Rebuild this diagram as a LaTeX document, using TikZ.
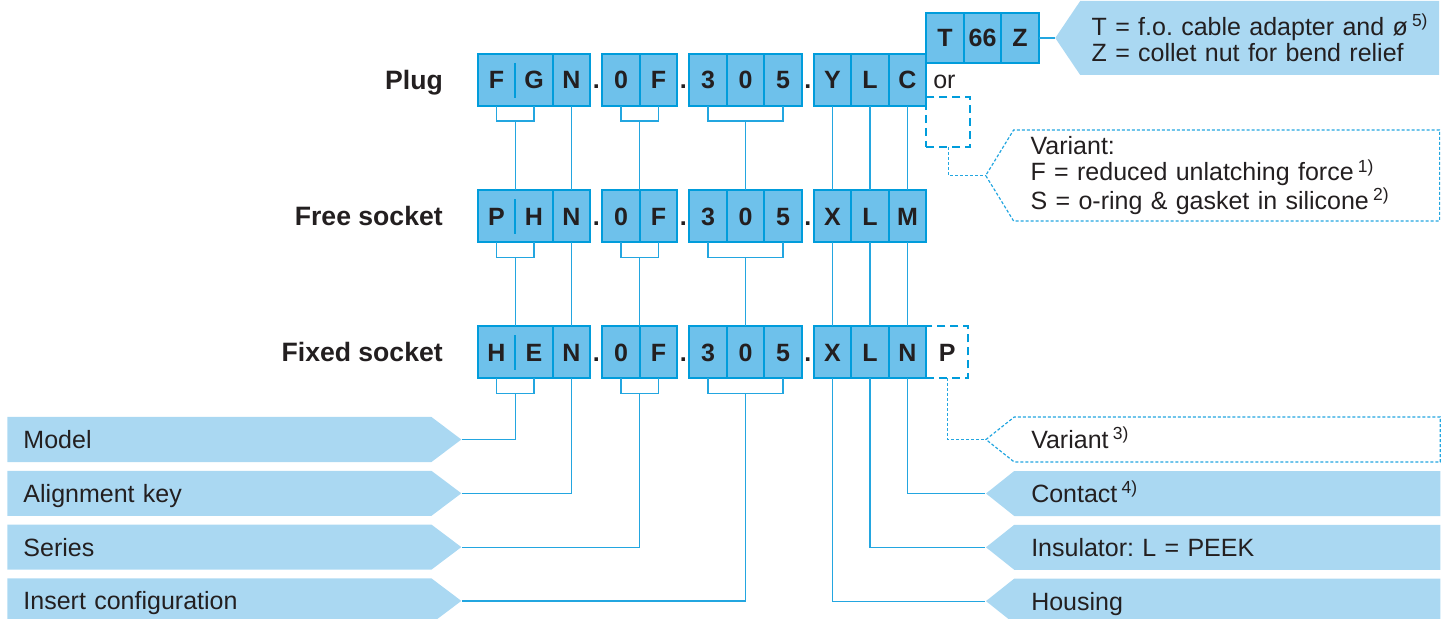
\documentclass[tikz,border=0pt]{standalone}
\usepackage{fontspec}
\setmainfont{Liberation Sans}
\usetikzlibrary{positioning, shapes.symbols}
\frenchspacing

\definecolor{cellfill}{RGB}{110,193,235}
\definecolor{cellline}{RGB}{0,156,219}
\definecolor{tagfill}{RGB}{170,216,242}
\definecolor{linkblue}{RGB}{35,166,224}
\definecolor{textdark}{RGB}{35,31,32}

\begin{document}
\begin{tikzpicture}[x=0.5pt, y=-0.5pt, text=textdark,
        cell/.style={draw=cellline, line width=1pt, fill=cellfill, minimum width=18.75pt, minimum height=26pt,
            inner sep=0pt, outer sep=0pt, text height=8.95pt, text depth=0pt, font=\fontsize{12.5}{15}\selectfont\bfseries},
        halfcell/.style={cell, draw=none},
        cellborder/.style={draw=cellline, line width=1pt},
        dashcell/.style={cell, fill=none, dash pattern=on 4pt off 2.5pt},
        gap/.style={minimum width=6pt, minimum height=26pt, inner sep=0pt, outer sep=0pt, text height=8.95pt, text depth=0pt,
            font=\fontsize{12.5}{15}\selectfont\bfseries},
        word/.style={gap, font=\fontsize{12.5}{15}\selectfont},
        rowname/.style={gap, anchor=east, text height=9.5pt, font=\fontsize{13.3}{15}\selectfont\bfseries},
        tag/.style={signal, fill=tagfill, inner ysep=0pt, align=left, text width=196pt, font=\fontsize{12.5}{13.25}\selectfont},
        oneline/.style={minimum height=22.5pt, text height=8.95pt, text depth=0pt},
        tagleft/.style={tag, oneline, signal to=east, signal pointer angle=74, inner xsep=8pt},
        tagright/.style={tag, signal to=west, signal pointer angle=77, inner xsep=8.5pt},
        dashtag/.style={tagright, fill=none, draw=linkblue, line width=0.6pt, dash pattern=on 1.5pt off 1pt},
        link/.style={draw=linkblue, line width=0.6pt},
        dotlink/.style={link, dash pattern=on 1.5pt off 1pt}
    ]
    \useasboundingbox (0,0) rectangle (1449,619);

    % plug
    \node[halfcell] (p1) at (496.5,80) {F};
    \node[halfcell, right=0pt of p1] (p2) {G};
    \node[cell, right=0pt of p2] (p3) {N};
    \node[gap, right=0pt of p3] (p3d) {.};
    \node[cell, right=0pt of p3d] (p4) {0};
    \node[cell, right=0pt of p4] (p5) {F};
    \node[gap, right=0pt of p5] (p5d) {.};
    \node[cell, right=0pt of p5d] (p6) {3};
    \node[cell, right=0pt of p6] (p7) {0};
    \node[cell, right=0pt of p7] (p8) {5};
    \node[gap, right=0pt of p8] (p8d) {.};
    \node[cell, right=0pt of p8d] (p9) {Y};
    \node[cell, right=0pt of p9] (p10) {L};
    \node[cell, right=0pt of p10] (p11) {C};
    \node[rowname, left=17.5pt of p1] (plug) {Plug};
    \node[word, right=3.5pt of p11] (or) {or};
    \node[dashcell, minimum width=22pt, minimum height=25pt, below right=-4.5pt and 0pt of p11] (pvar) {};
    \node[cell, minimum height=25pt, above right=-4.5pt and 0pt of p11] (t1) {T};
    \node[cell, minimum height=25pt, right=0pt of t1] (t2) {66};
    \node[cell, minimum height=25pt, right=0pt of t2] (t3) {Z};

    % free socket
    \node[halfcell, below=42.25pt of p1] (f1) {P};
    \node[halfcell, right=0pt of f1] (f2) {H};
    \node[cell, right=0pt of f2] (f3) {N};
    \node[gap, right=0pt of f3] (f3d) {.};
    \node[cell, right=0pt of f3d] (f4) {0};
    \node[cell, right=0pt of f4] (f5) {F};
    \node[gap, right=0pt of f5] (f5d) {.};
    \node[cell, right=0pt of f5d] (f6) {3};
    \node[cell, right=0pt of f6] (f7) {0};
    \node[cell, right=0pt of f7] (f8) {5};
    \node[gap, right=0pt of f8] (f8d) {.};
    \node[cell, right=0pt of f8d] (f9) {X};
    \node[cell, right=0pt of f9] (f10) {L};
    \node[cell, right=0pt of f10] (f11) {M};
    \node[rowname, left=17.5pt of f1] (free) {Free socket};

    % fixed socket
    \node[halfcell, below=42pt of f1] (x1) {H};
    \node[halfcell, right=0pt of x1] (x2) {E};
    \node[cell, right=0pt of x2] (x3) {N};
    \node[gap, right=0pt of x3] (x3d) {.};
    \node[cell, right=0pt of x3d] (x4) {0};
    \node[cell, right=0pt of x4] (x5) {F};
    \node[gap, right=0pt of x5] (x5d) {.};
    \node[cell, right=0pt of x5d] (x6) {3};
    \node[cell, right=0pt of x6] (x7) {0};
    \node[cell, right=0pt of x7] (x8) {5};
    \node[gap, right=0pt of x8] (x8d) {.};
    \node[cell, right=0pt of x8d] (x9) {X};
    \node[cell, right=0pt of x9] (x10) {L};
    \node[cell, right=0pt of x10] (x11) {N};
    \node[dashcell, minimum width=21pt, right=0pt of x11] (xP) {P};
    \node[rowname, left=17.5pt of x1] (fixed) {Fixed socket};

    % model frames with short divider
    \draw[cellborder] (p1.north west) rectangle (p2.south east);
    \draw[cellborder] ([yshift=-4.5pt]p1.north east) -- ([yshift=4pt]p1.south east);
    \draw[cellborder] (f1.north west) rectangle (f2.south east);
    \draw[cellborder] ([yshift=-4.5pt]f1.north east) -- ([yshift=4pt]f1.south east);
    \draw[cellborder] (x1.north west) rectangle (x2.south east);
    \draw[cellborder] ([yshift=-4.5pt]x1.north east) -- ([yshift=4pt]x1.south east);

    % labels
    \node[tagleft, anchor=east] (model) at (462,439.5) {Model};
    \node[tagleft, below=4pt of model] (alignkey) {Alignment key};
    \node[tagleft, below=4pt of alignkey] (series) {Series};
    \node[tagleft, below=4pt of series] (insert) {Insert configuration};
    \node[dashtag, oneline, anchor=west] (variant3) at (985,439.5) {Variant\,\textsuperscript{3)}};
    \node[tagright, oneline, below=4pt of variant3] (contact) {Contact\,\textsuperscript{4)}};
    \node[tagright, oneline, below=4pt of contact] (insul) {Insulator: L = PEEK};
    \node[tagright, oneline, below=4pt of insul] (housing) {Housing};
    \node[dashtag, minimum height=45.5pt, signal pointer angle=117, anchor=west] (variant1) at (985,175.5)
        {Variant:\\F = reduced unlatching force\,\textsuperscript{1)}\\S = o-ring \& gasket in silicone\,\textsuperscript{2)}};
    \node[tagright, minimum height=37pt, signal pointer angle=112, text width=168pt, inner xsep=5.75pt,
        font=\fontsize{12.5}{13}\selectfont, right=8pt of t3] (adapter)
        {\mbox{T = f.o. cable adapter and ø\,\textsuperscript{5)}}\\Z = collet nut for bend relief};

    % plug to free socket
    \draw[link] (p1.south) -- ++(0,-7.5pt) -| (p2.south);
    \draw[link] (p1.south east) ++(0,-7.5pt) -- (f1.north east);
    \draw[link] (p3.south) -- (f3.north);
    \draw[link] (p4.south) -- ++(0,-7.5pt) -| (p5.south);
    \draw[link] (p4.south east) ++(0,-7.5pt) -- (f4.north east);
    \draw[link] (p6.south) -- ++(0,-7.5pt) -| (p8.south);
    \draw[link] (p7.south) ++(0,-7.5pt) -- (f7.north);
    \draw[link] (p9.south) -- (f9.north);
    \draw[link] (p10.south) -- (f10.north);
    \draw[link] (p11.south) -- (f11.north);
    \draw[link] (t3.east) -- (adapter.west);
    \draw[dotlink] (pvar.south) |- (variant1.west);

    % free socket to fixed socket
    \draw[link] (f1.south) -- ++(0,-7.5pt) -| (f2.south);
    \draw[link] (f1.south east) ++(0,-7.5pt) -- (x1.north east);
    \draw[link] (f3.south) -- (x3.north);
    \draw[link] (f4.south) -- ++(0,-7.5pt) -| (f5.south);
    \draw[link] (f4.south east) ++(0,-7.5pt) -- (x4.north east);
    \draw[link] (f6.south) -- ++(0,-7.5pt) -| (f8.south);
    \draw[link] (f7.south) ++(0,-7.5pt) -- (x7.north);
    \draw[link] (f9.south) -- (x9.north);
    \draw[link] (f10.south) -- (x10.north);
    \draw[link] (f11.south) -- (x11.north);

    % fixed socket to labels
    \draw[link] (x1.south) -- ++(0,-7.5pt) -| (x2.south);
    \draw[link] (x1.south east) ++(0,-7.5pt) |- (model.east);
    \draw[link] (x3.south) |- (alignkey.east);
    \draw[link] (x4.south) -- ++(0,-7.5pt) -| (x5.south);
    \draw[link] (x4.south east) ++(0,-7.5pt) |- (series.east);
    \draw[link] (x6.south) -- ++(0,-7.5pt) -| (x8.south);
    \draw[link] (x7.south) ++(0,-7.5pt) |- (insert.east);
    \draw[link] (x9.south) |- (housing.west);
    \draw[link] (x10.south) |- (insul.west);
    \draw[link] (x11.south) |- (contact.west);
    \draw[dotlink] (xP.south) |- (variant3.west);
\end{tikzpicture}
\end{document}
